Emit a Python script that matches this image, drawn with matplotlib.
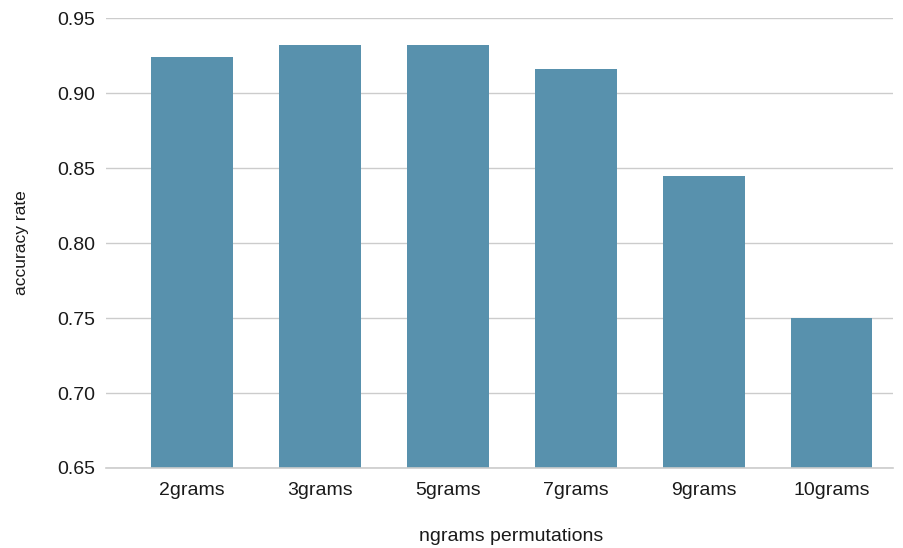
import matplotlib.pyplot as plt

# Data
categories = ["2grams", "3grams", "5grams", "7grams", "9grams", "10grams"]
accuracy = [0.924, 0.932, 0.932, 0.916, 0.845, 0.750]

BAR_COLOR = "#5891ad"
GRID_COLOR = "#cccccc"
TEXT_COLOR = "#1a1a1a"

plt.rcParams["font.family"] = ["Liberation Sans", "DejaVu Sans"]

fig = plt.figure(figsize=(9.04, 5.48), dpi=100)
ax = fig.add_axes([0.1173, 0.146, 0.8705, 0.821])

x = range(len(categories))
ax.bar(x, accuracy, width=0.64, color=BAR_COLOR, zorder=3)

ax.set_xlim(-0.67, len(categories) - 0.52)
ax.set_ylim(0.65, 0.95)
ax.set_yticks([0.65, 0.70, 0.75, 0.80, 0.85, 0.90, 0.95])
ax.set_yticklabels([f"{v:.2f}" for v in ax.get_yticks()])
ax.set_xticks(list(x))
ax.set_xticklabels(categories)

ax.yaxis.grid(True, color=GRID_COLOR, linewidth=1, zorder=0)
for side in ("top", "right", "left"):
    ax.spines[side].set_visible(False)
ax.spines["bottom"].set_color(GRID_COLOR)
ax.spines["bottom"].set_linewidth(1.2)
ax.spines["bottom"].set_zorder(4)

ax.tick_params(axis="both", length=0, labelsize=14, colors=TEXT_COLOR)
ax.tick_params(axis="y", pad=8)
ax.tick_params(axis="x", pad=10)

ax.set_xlabel("ngrams permutations", fontsize=14, color=TEXT_COLOR, labelpad=21)
ax.xaxis.label.set_x(0.515)
ax.set_ylabel("accuracy rate", fontsize=12.5, color=TEXT_COLOR, labelpad=20)

fig.savefig("out.png", dpi=100)
